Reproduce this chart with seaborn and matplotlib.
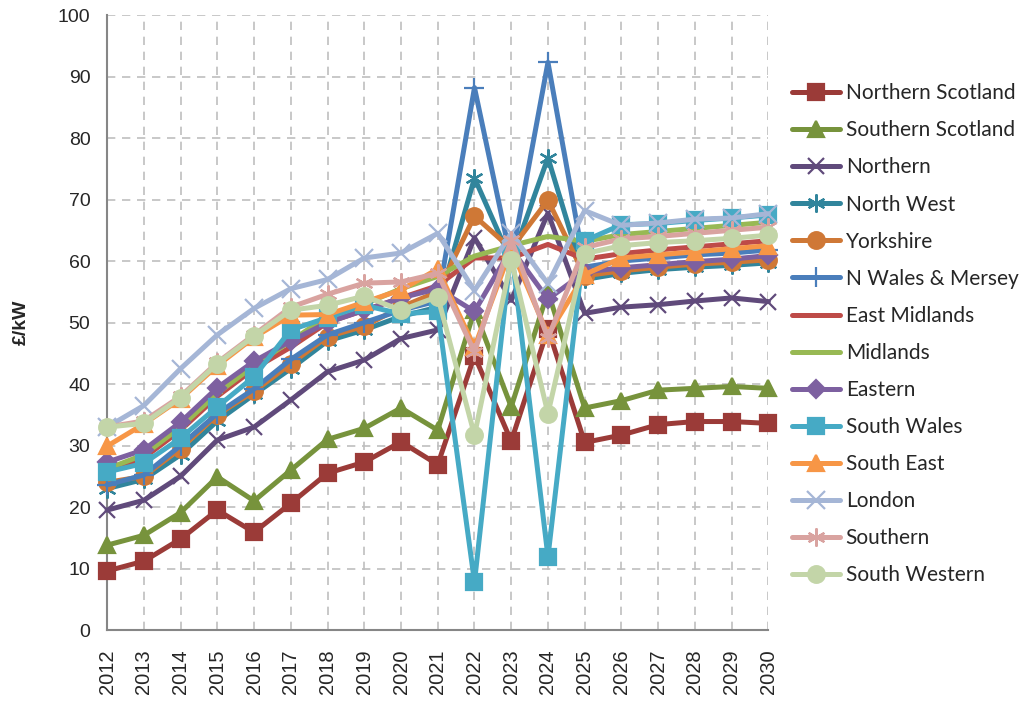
import numpy as np
import pandas as pd
import matplotlib
matplotlib.use("Agg")
import matplotlib.pyplot as plt
import seaborn as sns

years = list(range(2012, 2031))

northern_scotland = [9.6, 11.2, 14.8, 19.5, 15.9, 20.6, 25.5, 27.3, 30.6, 26.9, 44.6, 30.7, 49.0, 30.5, 31.7, 33.4, 33.9, 33.9, 33.6]
southern_scotland = [13.8, 15.4, 19.1, 24.9, 21.0, 26.0, 31.0, 32.8, 36.1, 32.5, 52.0, 36.3, 55.0, 36.1, 37.3, 39.0, 39.3, 39.6, 39.3]
northern = [19.5, 21.1, 25.0, 30.9, 33.0, 37.4, 42.0, 43.9, 47.4, 48.8, 63.8, 53.6, 67.8, 51.5, 52.5, 52.9, 53.5, 54.0, 53.4]
north_west = [23.0, 24.5, 28.5, 34.0, 38.3, 42.5, 47.0, 48.8, 51.0, 52.5, 73.5, 60.0, 76.8, 57.0, 58.0, 58.6, 59.0, 59.3, 59.7]
yorkshire = [24.0, 25.0, 29.5, 35.0, 38.8, 43.3, 47.7, 49.4, 52.5, 55.0, 67.3, 62.0, 69.9, 57.6, 58.4, 59.0, 59.5, 59.8, 60.2]
n_wales_mersey = [23.6, 25.2, 30.0, 35.2, 39.2, 44.0, 48.0, 50.0, 52.0, 53.5, 88.2, 60.0, 92.3, 59.0, 60.0, 60.5, 61.0, 61.3, 61.8]
east_midlands = [25.6, 28.0, 32.5, 38.0, 42.5, 46.0, 50.0, 52.0, 54.0, 56.0, 60.5, 60.5, 62.7, 60.3, 61.2, 61.8, 62.3, 62.8, 63.3]
midlands = [26.2, 28.5, 33.0, 38.5, 43.0, 47.0, 51.0, 53.0, 55.5, 57.5, 60.8, 62.5, 64.0, 63.2, 64.3, 64.8, 65.3, 65.8, 66.3]
eastern = [27.3, 29.3, 33.8, 39.4, 43.7, 47.0, 50.0, 52.0, 54.0, 55.5, 51.8, 62.0, 53.8, 58.2, 58.9, 59.4, 59.9, 60.3, 60.9]
south_wales = [25.7, 27.1, 31.2, 36.3, 41.2, 48.8, 50.8, 52.8, 51.4, 51.8, 7.8, 62.0, 11.9, 63.3, 65.9, 66.1, 66.6, 67.0, 67.5]
south_east = [29.9, 33.5, 37.6, 43.0, 47.6, 51.2, 51.3, 53.3, 55.3, 58.7, 46.0, 62.0, 48.0, 57.8, 60.5, 61.0, 61.5, 62.0, 62.5]
london = [33.0, 36.5, 42.5, 48.0, 52.3, 55.5, 57.0, 60.5, 61.3, 64.5, 55.2, 64.5, 56.3, 68.2, 65.8, 66.2, 66.8, 67.0, 67.7]
southern = [33.0, 34.0, 38.0, 43.5, 48.0, 52.5, 54.6, 56.4, 56.6, 58.0, 45.2, 63.5, 47.5, 62.2, 63.6, 64.0, 64.5, 65.0, 65.5]
south_western = [33.0, 33.6, 37.8, 43.3, 47.8, 52.0, 52.8, 54.3, 52.0, 54.2, 31.7, 60.2, 35.2, 61.2, 62.5, 63.0, 63.3, 63.7, 64.2]

regions = ["Northern Scotland", "Southern Scotland", "Northern", "North West", "Yorkshire",
           "N Wales & Mersey", "East Midlands", "Midlands", "Eastern", "South Wales",
           "South East", "London", "Southern", "South Western"]
values = [northern_scotland, southern_scotland, northern, north_west, yorkshire,
          n_wales_mersey, east_midlands, midlands, eastern, south_wales,
          south_east, london, southern, south_western]

colors = ["#9B3B38", "#77933C", "#604A7B", "#31859C", "#CF7836", "#4A7EBB", "#BE4B48",
          "#98B954", "#7D60A0", "#46AAC5", "#F79646", "#A5B6D6", "#D9A3A0", "#C3D5A8"]
asterisk = (6, 2, 0)
markers = ["s", "^", "x", asterisk, "o", "+", "None", "_", "D", "s", "^", "x", asterisk, "o"]
msizes = [11, 12, 12, 13, 12, 14, 0, 8, 9, 11, 12, 13, 13, 12]

df = pd.DataFrame({r: v for r, v in zip(regions, values)}, index=years)
df.index.name = "Year"

sns.set_style("white")
plt.rcParams['font.family'] = ['Liberation Sans', 'DejaVu Sans']

fig = plt.figure(figsize=(10.30, 7.09), dpi=100)
ax = fig.add_axes([0.104, 0.1114, 0.642, 0.8674])

for i, r in enumerate(regions):
    sns.lineplot(x=df.index, y=df[r], ax=ax, color=colors[i], linewidth=3.6,
                 marker=markers[i], markersize=msizes[i], markeredgecolor=colors[i],
                 markeredgewidth=1.6, label=r, clip_on=False, zorder=3 + i)

ax.set_xlim(2012, 2030)
ax.set_ylim(0, 100)
ax.set_yticks(range(0, 101, 10))
ax.set_xticks(years)
ax.set_xticklabels([str(y) for y in years], rotation=90, fontsize=14.5)
ax.tick_params(axis="y", labelsize=14, length=0, pad=12)
ax.tick_params(axis="x", direction="in", length=4, color="#BFBFBF", pad=14)
ax.set_xlabel("")
ax.set_ylabel("£/kW", fontsize=14, fontweight="bold", labelpad=20)

ax.grid(True, color="#BFBFBF", linestyle=(0, (5, 4)), linewidth=1.2)
ax.set_axisbelow(True)
for side in ["top", "right"]:
    ax.spines[side].set_visible(False)
for side in ["left", "bottom"]:
    ax.spines[side].set_color("#868686")
    ax.spines[side].set_linewidth(1.5)

ax.legend(loc="upper left", bbox_to_anchor=(1.035, 0.889), frameon=False,
          prop={"family": "Lato", "size": 15}, handlelength=2.35, borderpad=0,
          labelspacing=0.82, handletextpad=0.25, borderaxespad=0)

plt.savefig("out.png", dpi=100)
